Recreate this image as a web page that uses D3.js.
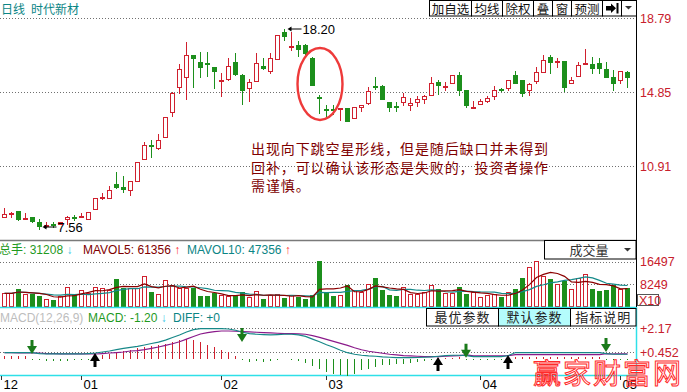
<!DOCTYPE html>
<html lang="zh">
<head>
<meta charset="UTF-8">
<title>时代新材 日线</title>
<script src="https://cdn.jsdelivr.net/npm/d3@7/dist/d3.min.js"></script>
<style>
  html, body { margin: 0; padding: 0; background: #fff; }
  svg { display: block; }
  text { font-family: "Liberation Sans", Arial, sans-serif; }
  .cjk { font-family: "Noto Sans CJK SC", sans-serif; }
</style>
</head>
<body>
<svg id="chart" width="687" height="392"></svg>
<script>
// daily candles
var opens = [8.23,8.42,8.53,8.15,8.21,7.94,7.79,7.86,7.82,8.09,
  8.23,8.25,8.12,8.65,9.25,9.24,9.97,9.82,9.66,10.14,
  11.31,12.04,11.87,12.49,13.82,15.15,15.65,16.82,16.46,16.38,
  16.18,15.48,15.54,16.46,15.77,15.09,15.45,16.25,16.00,16.61,
  18.05,17.28,17.37,17.37,16.68,14.57,13.98,13.94,13.97,14.01,
  13.47,14.05,14.26,15.17,15.19,14.33,14.12,14.33,14.16,14.33,
  14.51,14.72,15.40,15.18,15.33,15.76,14.97,14.04,14.21,14.40,
  14.62,15.02,15.06,15.77,15.50,14.97,15.44,15.93,16.73,16.47,
  16.50,15.33,15.72,16.37,16.36,16.39,16.07,15.65,15.49,15.93];
var highs = [8.69,8.46,8.55,8.41,8.22,8.09,7.93,7.96,7.96,8.26,
  8.33,8.41,8.48,9.23,9.50,9.86,10.61,10.39,10.15,11.14,
  12.20,12.31,12.63,13.55,14.85,16.36,17.53,16.84,17.00,17.00,
  16.20,15.86,16.68,16.93,15.79,15.54,16.93,16.68,16.93,17.90,
  18.20,18.02,17.57,17.40,16.70,14.72,14.16,14.16,14.00,14.03,
  14.07,14.17,15.12,15.68,15.21,14.34,14.33,14.80,14.55,14.65,
  14.72,15.65,15.47,15.40,15.78,15.93,14.99,14.37,14.51,14.65,
  15.19,15.08,15.51,15.95,15.52,15.36,16.18,16.82,16.85,16.68,
  16.52,15.65,16.43,17.14,16.71,16.68,16.43,16.04,16.00,15.98];
var lows = [8.23,8.23,8.07,8.15,7.96,7.56,7.69,7.69,7.82,7.84,
  8.07,8.25,8.10,8.63,9.18,9.22,9.75,9.54,9.40,10.12,
  11.30,11.42,11.85,12.45,13.60,14.83,14.51,15.15,15.68,15.72,
  15.08,14.62,15.52,15.77,14.21,14.40,15.43,16.10,15.89,16.59,
  17.63,17.07,16.75,16.90,15.23,13.76,13.59,13.69,13.37,13.30,
  13.45,13.87,14.24,15.01,14.49,13.87,13.84,14.16,13.91,14.12,
  14.26,14.70,14.76,14.97,15.31,14.69,14.08,14.04,14.20,14.33,
  14.51,14.90,14.94,15.34,14.65,14.69,15.33,15.91,15.89,16.18,
  14.90,15.31,15.70,16.37,15.89,15.89,15.63,14.94,15.33,15.15];
var closes = [8.35,8.45,8.12,8.18,8.01,7.75,7.81,7.83,7.93,8.19,
  8.20,8.27,8.46,9.21,9.27,9.63,9.83,9.72,10.13,11.12,
  12.04,11.97,12.29,13.52,14.83,16.07,16.82,16.64,16.21,16.34,
  16.00,15.50,16.25,15.79,14.94,15.38,16.39,16.11,16.66,17.88,
  17.86,17.32,17.14,16.93,15.25,14.53,13.95,13.91,13.99,13.32,
  14.05,14.16,14.90,15.13,14.51,14.05,14.08,14.58,14.30,14.46,
  14.65,15.33,15.22,15.20,15.76,14.97,14.16,14.06,14.37,14.56,
  14.97,15.00,15.49,15.36,14.83,15.28,15.93,16.55,16.43,16.49,
  15.12,15.50,16.30,16.40,16.11,16.11,15.65,15.33,15.95,15.65];

// volume, in units of 10 lots
var vols = [4810,4810,6400,4700,4440,3810,2700,2330,3810,7030,
  4190,5920,4930,7280,6660,6170,10100,6900,6660,6660,
  11100,5180,4690,9620,7900,6660,6660,6660,3810,3810,
  4810,4070,3700,3810,5180,3330,5800,2590,4320,4690,
  2960,4320,3580,2590,4190,16760,5180,3700,4190,7900,
  6170,5180,8140,10470,6050,4190,3700,7030,4570,4440,
  5180,7770,6400,4900,4900,7030,4570,5180,3330,4190,
  4440,3580,5430,6400,10360,14540,16650,11200,10100,8250,
  9360,6400,10360,11840,6400,5680,6050,7900,6400,6900];

// MACD panel
var diffs = [0.43,0.43,0.43,0.43,0.43,0.37,0.34,0.34,0.34,0.34,
  0.34,0.34,0.37,0.41,0.48,0.55,0.65,0.73,0.80,0.87,
  0.97,1.08,1.18,1.32,1.50,1.68,1.89,2.06,2.13,2.13,
  2.13,2.13,2.10,2.01,1.87,1.77,1.73,1.70,1.68,1.70,
  1.73,1.73,1.68,1.58,1.39,1.20,0.99,0.81,0.60,0.43,
  0.32,0.25,0.20,0.18,0.13,0.11,0.08,0.08,0.08,0.09,
  0.11,0.13,0.18,0.22,0.25,0.25,0.22,0.15,0.15,0.15,
  0.15,0.15,0.23,0.44,0.44,0.44,0.44,0.44,0.44,0.44,
  0.44,0.44,0.44,0.44,0.44,0.44,0.37,0.32,0.32,0.32];
var deas = [0.43,0.43,0.41,0.41,0.41,0.41,0.37,0.36,0.34,0.34,
  0.34,0.34,0.34,0.34,0.37,0.41,0.44,0.48,0.55,0.58,
  0.65,0.74,0.83,0.94,1.06,1.20,1.39,1.57,1.75,1.85,
  1.92,1.96,1.96,1.94,1.91,1.89,1.87,1.84,1.82,1.80,
  1.78,1.77,1.75,1.73,1.63,1.51,1.37,1.23,1.09,0.95,
  0.78,0.64,0.53,0.46,0.39,0.32,0.27,0.22,0.20,0.18,
  0.15,0.15,0.15,0.18,0.20,0.22,0.27,0.20,0.20,0.20,
  0.20,0.20,0.23,0.30,0.30,0.30,0.30,0.30,0.30,0.30,
  0.30,0.30,0.30,0.30,0.30,0.30,0.37,0.34,0.34,0.34];
var macdBars = [0.23,0.23,0.20,0.18,-0.07,-0.10,-0.12,-0.14,-0.14,-0.12,
  -0.10,-0.08,-0.05,0.05,0.28,0.35,0.47,0.54,0.63,0.75,
  0.82,0.89,0.94,1.06,1.17,1.29,1.41,1.34,1.17,0.99,
  0.82,0.62,0.45,0.23,-0.07,-0.23,-0.19,-0.23,-0.19,-0.07,
  -0.03,-0.05,-0.12,-0.28,-0.54,-0.75,-0.94,-1.06,-1.17,-1.22,
  -1.06,-0.82,-0.70,-0.59,-0.47,-0.45,-0.40,-0.35,-0.28,-0.23,
  -0.19,-0.07,0.03,0.07,0.08,0.10,-0.07,-0.07,-0.07,-0.07,
  -0.07,-0.07,0.02,0.10,0.10,0.10,0.10,0.10,0.10,0.10,
  0.10,0.10,0.10,0.10,0.10,0.10,-0.05,-0.05,-0.05,-0.05];
var sellSignals = [[4, 0.34], [34, 1.18], [66, 0.08], [86, 0.48]];
var buySignals = [[13, 0.41], [62, 0.13], [72, 0.27]];

var priceTicks = [18.79, 14.85, 10.91];
var volTicks = [16497, 8249];
var macdTicks = [2.17, 0.452];
var dateIdx = [0, 11, 31, 46, 68, 88];
var dateLabels = ['12', '01', '02', '03', '04', '05'];

var noteLines = ['出现向下跳空星形线，但是随后缺口并未得到',
                 '回补，可以确认该形态是失败的，投资者操作',
                 '需谨慎。'];

var RED = '#d0202e', GREEN = '#1c8f1c', TEAL = '#0b8585', LABEL = '#c8202c', CYAN = '#2ee0e8';
var R = 636;   // right edge of plot

var svg = d3.select('#chart');

var x = d3.scaleBand().domain(d3.range(closes.length)).range([0.5, 630.5]);
var cx = i => Math.round(x(i) + x.bandwidth() / 2) + 0.5;
var yP = d3.scaleLinear().domain([10.91, 18.79]).range([166.3, 18]);
var yV = d3.scaleLinear().domain([0, 16497]).range([306.5, 261.7]);
var yM = d3.scaleLinear().domain([0, 2.17]).range([358.8, 328]);
var snap = v => Math.round(v) + 0.5;

function dotted(y) {
    svg.append('line').attr('x1', 0).attr('x2', R).attr('y1', snap(y)).attr('y2', snap(y))
        .attr('stroke', '#707070').attr('stroke-dasharray', '1,2');
}

// ---------- header ----------
svg.append('text').attr('class', 'cjk').attr('x', 1).attr('y', 13.5)
    .attr('font-size', 12).attr('fill', TEAL).text('日线');
svg.append('text').attr('class', 'cjk').attr('x', 31).attr('y', 13.5)
    .attr('font-size', 12).attr('fill', TEAL).text('时代新材');

var btnEdges = [429.5, 471.5, 502.5, 533.5, 552.5, 571.5, 602.5, 621.5, 636.5];
var btnText = ['加自选', '均线', '除权', '叠', '窗', '预测', '', ''];
btnText.forEach(function (t, k) {
    var x0 = btnEdges[k], x1 = btnEdges[k + 1];
    svg.append('rect').attr('x', x0).attr('y', 0.5).attr('width', x1 - x0).attr('height', 15.5)
        .attr('fill', '#fff').attr('stroke', '#000');
    if (t) svg.append('text').attr('class', 'cjk').attr('x', (x0 + x1) / 2).attr('y', 13.5)
        .attr('text-anchor', 'middle').attr('font-size', 12.5).attr('fill', '#111').text(t);
});
svg.append('path').attr('d', 'M606,6H611V3.5L616,8.3L611,13V10.5H606Z M616.5,3H618.5V13.5H616.5Z').attr('fill', '#000');
svg.append('path').attr('d', 'M625,6H632L628.5,9.5Z').attr('fill', '#333');

// ---------- price panel ----------
priceTicks.forEach(function (p) {
    dotted(yP(p));
    svg.append('text').attr('x', 640).attr('y', yP(p) + 4.5).attr('font-size', 12.5)
        .attr('fill', LABEL).text(p.toFixed(2));
});

var candles = svg.append('g').attr('shape-rendering', 'crispEdges');
closes.forEach(function (c, i) {
    var o = opens[i], up = c >= o, col = up ? RED : GREEN, px = cx(i);
    var yTop = Math.round(yP(Math.max(o, c))), yBot = Math.round(yP(Math.min(o, c)));
    var yH = Math.round(yP(highs[i])), yL = Math.round(yP(lows[i]));
    if (yBot - yTop < 2) {
        candles.append('line').attr('x1', px).attr('x2', px).attr('y1', yH).attr('y2', yL + 1).attr('stroke', col);
        candles.append('rect').attr('x', px - 2.5).attr('y', yTop).attr('width', 5).attr('height', Math.max(yBot - yTop, 1.5)).attr('fill', col);
        return;
    }
    if (yH < yTop) candles.append('line').attr('x1', px).attr('x2', px).attr('y1', yH).attr('y2', yTop).attr('stroke', col);
    if (yL > yBot) candles.append('line').attr('x1', px).attr('x2', px).attr('y1', yBot).attr('y2', yL + 1).attr('stroke', col);
    if (up) {
        candles.append('rect').attr('x', px - 2).attr('y', yTop + 0.5).attr('width', 4).attr('height', yBot - yTop)
            .attr('fill', '#fff').attr('stroke', col);
    } else {
        candles.append('rect').attr('x', px - 2.5).attr('y', yTop).attr('width', 5).attr('height', yBot - yTop + 1)
            .attr('fill', col);
    }
});

// max / min markers
function marker(i, v, dy) {
    var x0 = cx(i) + 3, y0 = Math.round(yP(v)) + dy;
    svg.append('path').attr('d', 'M' + x0 + ',' + y0 + 'l4,-2.5v5z').attr('fill', '#000');
    svg.append('line').attr('x1', x0 + 3).attr('x2', x0 + 14).attr('y1', y0).attr('y2', y0).attr('stroke', '#000');
    svg.append('text').attr('x', x0 + 15).attr('y', y0 + 5).attr('font-size', 13).attr('fill', '#000').text(v.toFixed(2));
}
var iMax = d3.maxIndex(highs), iMin = d3.minIndex(lows);
marker(iMax, highs[iMax], 0);
marker(iMin, lows[iMin], -2);

// annotation
svg.append('ellipse').attr('cx', 320).attr('cy', 84).attr('rx', 22.5).attr('ry', 36)
    .attr('fill', 'none').attr('stroke', '#ee3a3a').attr('stroke-width', 2.4);
noteLines.forEach(function (t, k) {
    svg.append('text').attr('class', 'cjk').attr('x', 251).attr('y', 154 + k * 18.6)
        .attr('font-size', 14).attr('letter-spacing', 0.9).attr('fill', '#800000').text(t);
});

// ---------- volume panel ----------
svg.append('line').attr('x1', 0).attr('x2', R).attr('y1', 240.5).attr('y2', 240.5)
    .attr('stroke', '#7a7a7a').attr('stroke-width', 1.5);
svg.append('rect').attr('x', 544.5).attr('y', 240.5).attr('width', 91.5).attr('height', 18.5)
    .attr('fill', '#fff').attr('stroke', '#000');
svg.append('text').attr('class', 'cjk').attr('x', 589).attr('y', 254.5).attr('text-anchor', 'middle')
    .attr('font-size', 13).attr('fill', '#333').text('成交量');
svg.append('path').attr('d', 'M624,248H631L627.5,251.5Z').attr('fill', '#333');

var volHead = svg.append('text').attr('y', 253.5).attr('font-size', 12);
volHead.append('tspan').attr('x', -1).attr('class', 'cjk').attr('fill', '#1f9a1f').text('总手');
volHead.append('tspan').attr('fill', '#1f9a1f').text(': 31208 ');
volHead.append('tspan').attr('fill', '#3cc8e8').attr('font-weight', 'bold').text('↓');
volHead.append('tspan').attr('x', 83).attr('fill', '#800000').text('MAVOL5: 61356 ');
volHead.append('tspan').attr('fill', '#ff3030').attr('font-weight', 'bold').text('↑');
volHead.append('tspan').attr('x', 187).attr('fill', TEAL).text('MAVOL10: 47356 ');
volHead.append('tspan').attr('fill', '#ff3030').attr('font-weight', 'bold').text('↑');

volTicks.forEach(function (v) {
    dotted(yV(v));
    svg.append('text').attr('x', 640).attr('y', yV(v) + 4.5).attr('font-size', 12.5)
        .attr('fill', LABEL).text(v);
});
svg.append('rect').attr('x', 637.5).attr('y', 294.5).attr('width', 21).attr('height', 11)
    .attr('fill', '#fff').attr('stroke', '#555');
svg.append('text').attr('x', 639).attr('y', 304.5).attr('font-size', 12.5).attr('fill', LABEL).text('X10');

var vbars = svg.append('g').attr('shape-rendering', 'crispEdges');
vols.forEach(function (v, i) {
    var up = closes[i] >= opens[i], px = cx(i), yt = Math.round(yV(v));
    if (up) vbars.append('rect').attr('x', px - 2).attr('y', yt + 0.5).attr('width', 4).attr('height', 306 - yt)
        .attr('fill', '#fff').attr('stroke', RED);
    else vbars.append('rect').attr('x', px - 2.5).attr('y', yt).attr('width', 5).attr('height', 307 - yt).attr('fill', GREEN);
});

function movingAvg(arr, n) {
    return arr.map((d, i) => d3.mean(arr.slice(Math.max(0, i - n + 1), i + 1)));
}
var maLine = d3.line().x((d, i) => cx(i)).y(d => yV(d));
svg.append('path').attr('d', maLine(movingAvg(vols, 10))).attr('fill', 'none').attr('stroke', '#158a8a').attr('stroke-width', 1.2);
svg.append('path').attr('d', maLine(movingAvg(vols, 5))).attr('fill', 'none').attr('stroke', '#8b0000').attr('stroke-width', 1.2);

// ---------- MACD panel ----------
svg.append('line').attr('x1', 0).attr('x2', R).attr('y1', 307.5).attr('y2', 307.5).attr('stroke', CYAN).attr('stroke-width', 1.5);
svg.append('line').attr('x1', 0).attr('x2', R).attr('y1', 375.5).attr('y2', 375.5).attr('stroke', CYAN).attr('stroke-width', 1.5);
svg.append('line').attr('x1', R + 0.5).attr('x2', R + 0.5).attr('y1', 0).attr('y2', 307).attr('stroke', '#000');
svg.append('line').attr('x1', R + 0.5).attr('x2', R + 0.5).attr('y1', 307).attr('y2', 376).attr('stroke', CYAN).attr('stroke-width', 1.5);

var macdHead = svg.append('text').attr('y', 322).attr('font-size', 12);
macdHead.append('tspan').attr('x', 0).attr('fill', '#bdbdbd').text('MACD(12,26,9)');
macdHead.append('tspan').attr('x', 88).attr('fill', '#1f9a1f').text('MACD: -1.20 ');
macdHead.append('tspan').attr('fill', '#3cc8e8').attr('font-weight', 'bold').text('↓');
macdHead.append('tspan').attr('x', 173).attr('fill', TEAL).text('DIFF: +0');

var mBtnEdges = [426.5, 498.5, 570.5, 636];
['最优参数', '默认参数', '指标说明'].forEach(function (t, k) {
    var x0 = mBtnEdges[k], x1 = mBtnEdges[k + 1];
    svg.append('rect').attr('x', x0).attr('y', 308.5).attr('width', x1 - x0).attr('height', 17.5)
        .attr('fill', k === 1 ? '#b4fcfc' : '#fff').attr('stroke', '#000');
    svg.append('text').attr('class', 'cjk').attr('x', (x0 + x1) / 2).attr('y', 322).attr('text-anchor', 'middle')
        .attr('font-size', 13).attr('fill', '#222').attr('letter-spacing', 1).text(t);
});

macdTicks.forEach(function (v) {
    dotted(yM(v));
    svg.append('text').attr('x', 640).attr('y', yM(v) + 4.5).attr('font-size', 12.5)
        .attr('fill', LABEL).text('+' + v);
});

var hist = svg.append('g').attr('shape-rendering', 'crispEdges');
macdBars.forEach(function (v, i) {
    hist.append('line').attr('x1', cx(i)).attr('x2', cx(i)).attr('y1', Math.round(yM(0))).attr('y2', Math.round(yM(v)))
        .attr('stroke', v >= 0 ? RED : GREEN);
});
var mLine = d3.line().x((d, i) => cx(i)).y(d => yM(d));
svg.append('path').attr('d', mLine(deas)).attr('fill', 'none').attr('stroke', '#8a1a8a').attr('stroke-width', 1.2);
svg.append('path').attr('d', mLine(diffs)).attr('fill', 'none').attr('stroke', '#178888').attr('stroke-width', 1.2);

sellSignals.forEach(function (s) {
    var px = cx(s[0]) - 0.5, ty = yM(s[1]);
    svg.append('path').attr('d', 'M' + (px - 1.5) + ',' + (ty - 14) + 'h3v6h3.5l-5,8l-5,-8h3.5z').attr('fill', '#1a7a1a');
});
buySignals.forEach(function (s) {
    var px = cx(s[0]) - 0.5, ty = yM(s[1]);
    svg.append('path').attr('d', 'M' + (px - 1.5) + ',' + (ty + 14) + 'h3v-6h3.5l-5,-8l-5,8h3.5z').attr('fill', '#000');
});

// date axis
dateIdx.forEach(function (i, k) {
    var px = i === 0 ? 1.5 : cx(i);
    svg.append('line').attr('x1', px).attr('x2', px).attr('y1', 376).attr('y2', 380).attr('stroke', '#333');
    svg.append('text').attr('x', px + 2).attr('y', 389).attr('font-size', 13).attr('fill', '#000').text(dateLabels[k]);
});

// watermark
svg.append('text').attr('class', 'cjk').attr('x', 533).attr('y', 384).attr('font-size', 28)
    .attr('letter-spacing', 2).attr('fill', 'none').attr('stroke', '#ff2a2a').attr('stroke-width', 1).text('赢家财富网');
</script>
</body>
</html>
